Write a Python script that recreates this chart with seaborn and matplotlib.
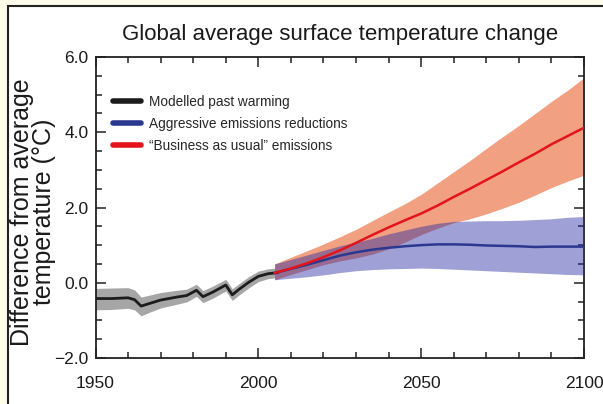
import numpy as np
import pandas as pd
import matplotlib
matplotlib.use("Agg")
import matplotlib.pyplot as plt
from matplotlib.patches import Rectangle
from matplotlib.ticker import MultipleLocator, FuncFormatter
import seaborn as sns

# ---- modelled past warming (1950-2006) ----
past_years = [1950, 1955, 1960, 1962, 1964, 1967, 1970, 1975, 1978, 1981,
              1983, 1986, 1990, 1992, 1994, 1997, 2000, 2003, 2006]
past_mean = [-0.42, -0.42, -0.40, -0.45, -0.62, -0.54, -0.46, -0.38, -0.34, -0.20,
             -0.37, -0.25, -0.06, -0.32, -0.18, 0.01, 0.17, 0.24, 0.27]
past_low = [-0.72, -0.71, -0.68, -0.72, -0.88, -0.77, -0.67, -0.57, -0.51, -0.36,
            -0.53, -0.41, -0.22, -0.47, -0.33, -0.14, 0.03, 0.11, 0.14]
past_high = [-0.15, -0.14, -0.13, -0.19, -0.38, -0.32, -0.26, -0.20, -0.17, -0.04,
             -0.21, -0.09, 0.09, -0.16, -0.03, 0.16, 0.31, 0.37, 0.40]

# ---- projections (2005-2100) ----
future_years = [2005, 2010, 2015, 2020, 2025, 2030, 2035, 2040, 2045, 2050,
                2055, 2060, 2065, 2070, 2075, 2080, 2085, 2090, 2095, 2100]

bau_mean = [0.26, 0.38, 0.52, 0.68, 0.86, 1.06, 1.27, 1.47, 1.66, 1.84,
            2.05, 2.28, 2.50, 2.73, 2.96, 3.20, 3.43, 3.68, 3.90, 4.12]
bau_high = [0.50, 0.68, 0.85, 1.03, 1.22, 1.42, 1.65, 1.88, 2.10, 2.35,
            2.65, 2.95, 3.25, 3.57, 3.88, 4.18, 4.50, 4.82, 5.12, 5.45]
bau_low = [0.08, 0.22, 0.35, 0.48, 0.58, 0.66, 0.76, 0.90, 1.08, 1.28,
           1.45, 1.60, 1.70, 1.83, 1.98, 2.14, 2.33, 2.53, 2.70, 2.86]

cut_mean = [0.26, 0.37, 0.48, 0.60, 0.72, 0.81, 0.88, 0.93, 0.97, 1.00,
            1.02, 1.02, 1.01, 0.99, 0.98, 0.97, 0.95, 0.96, 0.96, 0.96]
cut_high = [0.50, 0.62, 0.74, 0.86, 0.98, 1.08, 1.18, 1.30, 1.40, 1.50,
            1.58, 1.63, 1.64, 1.65, 1.65, 1.66, 1.68, 1.70, 1.74, 1.76]
cut_low = [0.08, 0.12, 0.16, 0.21, 0.27, 0.32, 0.35, 0.37, 0.38, 0.39,
           0.38, 0.36, 0.34, 0.32, 0.30, 0.28, 0.26, 0.24, 0.22, 0.21]

labels = ["Modelled past warming",
          "Aggressive emissions reductions",
          "\u201cBusiness as usual\u201d emissions"]

past = pd.DataFrame({"year": past_years, "temp": past_mean})
bau = pd.DataFrame({"year": future_years, "temp": bau_mean})
cut = pd.DataFrame({"year": future_years, "temp": cut_mean})

sns.set_style("ticks")
plt.rcParams["font.family"] = ["Liberation Sans", "DejaVu Sans"]

fig = plt.figure(figsize=(6.03, 4.04), dpi=100, facecolor="#fffcea")
# white panel with a dark frame, behind everything else
panel = Rectangle((7.5 / 603, -0.2), 1.2, 1.2 - 6.0 / 404,
                  transform=fig.transFigure, facecolor="white",
                  edgecolor="#222222", linewidth=1.5, zorder=-10)
fig.patches.append(panel)

ax = fig.add_axes([95.5 / 603, 1 - 358 / 404, (584 - 95.5) / 603, (358 - 57) / 404],
                  zorder=1)
ax.set_facecolor("white")

# uncertainty bands
ax.fill_between(past_years, past_low, past_high, color="#a6a6a6", lw=0, zorder=1)
ax.fill_between(future_years, bau_low, bau_high, color="#f2a082", lw=0, zorder=2)
ax.fill_between(future_years, cut_low, cut_high, color=(42 / 255, 44 / 255, 162 / 255),
                alpha=0.45, lw=0, zorder=3)

# central estimates
sns.lineplot(data=past, x="year", y="temp", color="#1c1c1c", lw=2.0, ax=ax,
             label=labels[0], zorder=5)
sns.lineplot(data=cut, x="year", y="temp", color="#2b388f", lw=1.8, ax=ax,
             label=labels[1], zorder=5)
sns.lineplot(data=bau, x="year", y="temp", color="#e3141c", lw=1.8, ax=ax,
             label=labels[2], zorder=6)

ax.set_xlim(1950, 2100)
ax.set_ylim(-2.0, 6.0)
ax.xaxis.set_major_locator(MultipleLocator(50))
ax.xaxis.set_minor_locator(MultipleLocator(10))
ax.yaxis.set_major_locator(MultipleLocator(2))
ax.yaxis.set_minor_locator(MultipleLocator(0.5))
ax.yaxis.set_major_formatter(FuncFormatter(lambda v, _: f"{v:.1f}".replace("-", "\u2212")))
ax.tick_params(which="both", direction="in", top=True, right=True,
               color="#222222", width=1.1)
ax.tick_params(which="major", length=7, labelsize=12.5, labelcolor="#1a1a1a")
ax.tick_params(which="minor", length=4)
ax.tick_params(axis="x", which="major", pad=13)
ax.tick_params(axis="y", which="major", pad=5)
for s in ax.spines.values():
    s.set_linewidth(1.3)
    s.set_color("#222222")

ax.set_xlabel("")
ax.set_ylabel("Difference from average\ntemperature (\u00b0C)", fontsize=18,
              color="#1a1a1a", linespacing=0.92)
ax.yaxis.set_label_coords(-0.08, 0.485)
ax.set_title("Global average surface temperature change", fontsize=16,
             color="#1a1a1a", pad=12)

leg = ax.legend(loc="upper left", bbox_to_anchor=(0.024, 0.892), borderaxespad=0,
                frameon=False, fontsize=9.8, handlelength=2.1, handletextpad=0.6,
                labelspacing=0.58)
for h in leg.get_lines():
    h.set_linewidth(4)
    h.set_solid_capstyle("round")

fig.savefig("out.png", dpi=100, facecolor=fig.get_facecolor())
